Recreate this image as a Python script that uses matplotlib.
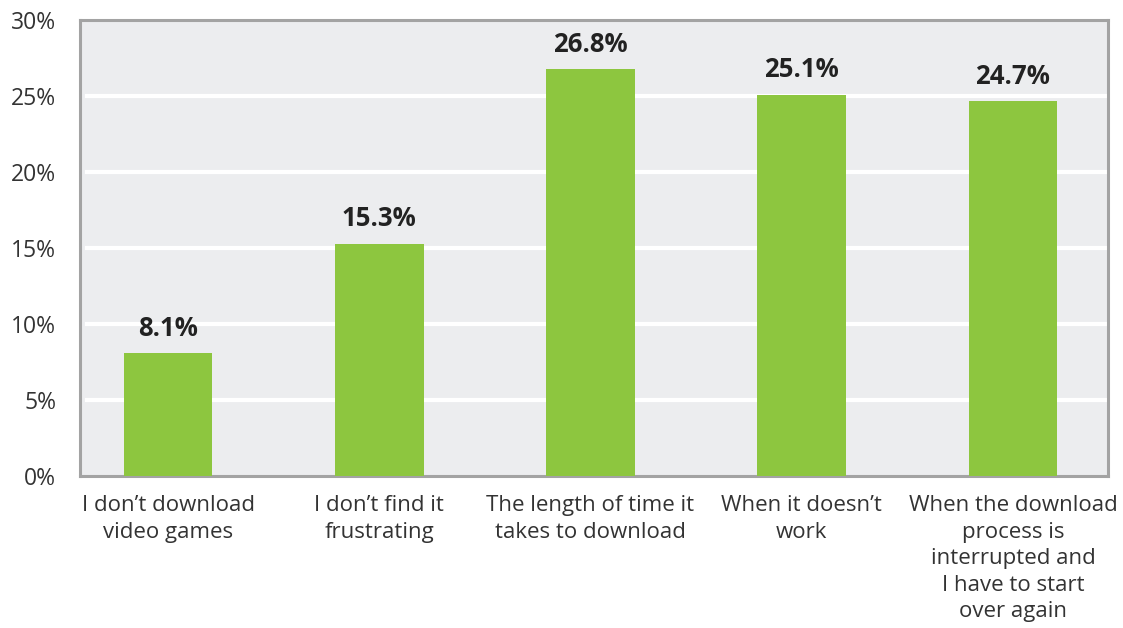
import matplotlib.pyplot as plt
from matplotlib.ticker import FuncFormatter

categories = [
    "I don\u2019t download\nvideo games",
    "I don\u2019t find it\nfrustrating",
    "The length of time it\ntakes to download",
    "When it doesn\u2019t\nwork",
    "When the download\nprocess is\ninterrupted and\nI have to start\nover again",
]
values = [8.1, 15.3, 26.8, 25.1, 24.7]

bar_color = "#8DC63F"
bg_color = "#ECEDEF"
frame_color = "#A3A3A3"
text_color = "#333333"

plt.rcParams['font.family'] = ['Open Sans', 'DejaVu Sans']

fig = plt.figure(figsize=(11.23, 6.28), dpi=100)
ax = fig.add_axes([0.0712, 0.242, 0.9154, 0.726])
ax.set_facecolor(bg_color)

x = range(len(categories))
bars = ax.bar(x, values, width=0.42, color=bar_color, zorder=3)

for xi, v in zip(x, values):
    ax.annotate(f"{v}%", (xi, v), xytext=(0, 8), textcoords="offset points",
                ha="center", va="bottom", fontsize=18.5, fontweight="bold",
                color="#222222")

ax.set_ylim(0, 30)
ax.set_xlim(-0.417, 4.45)
ax.set_yticks(range(0, 31, 5))
ax.yaxis.set_major_formatter(FuncFormatter(lambda v, p: f"{v:.0f}%"))

# white gridlines, only the interior ones
for g in range(5, 30, 5):
    ax.axhline(g, xmin=0.007, xmax=1, color="white", lw=3, zorder=1)

ax.set_xticks(list(x))
ax.set_xticklabels(categories, fontsize=16, color=text_color, linespacing=1.34)
ax.tick_params(axis="y", length=0, pad=17, labelsize=16.5, labelcolor=text_color)
ax.tick_params(axis="x", length=0, pad=14)

for s in ax.spines.values():
    s.set_color(frame_color)
    s.set_linewidth(2.2)

fig.savefig("out.png", dpi=100, facecolor="white")
